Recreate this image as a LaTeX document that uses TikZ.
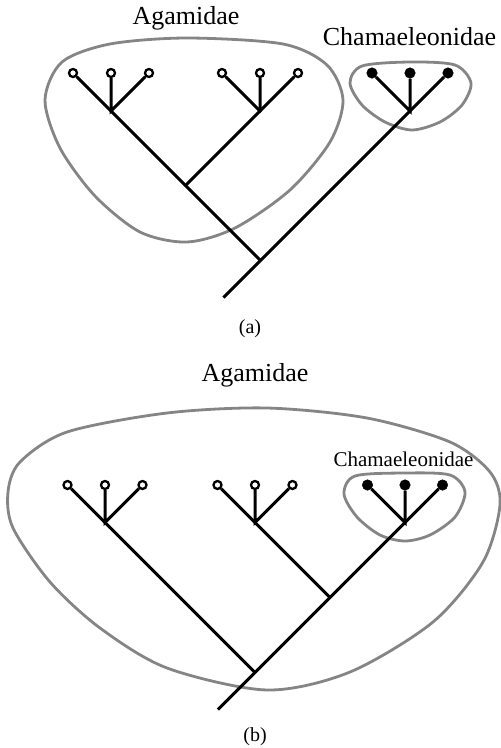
\documentclass[tikz,border=0pt]{standalone}
\usepackage{fontspec}
\setmainfont{Liberation Serif}
\definecolor{cladegray}{HTML}{858585}
\tikzset{
  branch/.style={line width=3pt},
  openleaf/.style={circle, draw, line width=2.3pt, fill=white, minimum size=8pt, inner sep=0pt},
  fullleaf/.style={circle, draw, fill, line width=0.5pt, minimum size=10.5pt, inner sep=0pt},
  clade/.style={cladegray, line width=2.8pt},
  taxon/.style={font=\fontsize{26}{30}\selectfont, anchor=base, inner sep=0pt},
  panel/.style={font=\fontsize{20}{24}\selectfont, anchor=base, inner sep=0pt},
}
\begin{document}
\begin{tikzpicture}[x=1pt, y=-1pt]
  \useasboundingbox (0,0) rectangle (501,748);

  % ---------------- (a) ----------------
  % Clade outlines
  \draw[clade] plot[smooth cycle] coordinates {(187,38) (283,44) (327,65) (343,100) (330,142) (290,190) (235,228) (187,242) (140,232) (95,196) (60,148) (45,100) (62,62) (110,44)};
  \draw[clade] plot[smooth cycle] coordinates {(410,62) (455,65) (471,83) (462,105) (440,122) (412,130) (385,122) (362,105) (350,83) (362,66)};

  % Inner nodes
  \coordinate (aJ1) at (111,111);
  \coordinate (aJ2) at (260,111);
  \coordinate (aJC) at (410,111);
  \coordinate (aJ12) at (185.5,185.5);
  \coordinate (aRoot) at (260.5,260.5);
  \coordinate (aStem) at (223.5,297.5);

  % Leaves
  \node[openleaf] (aA1) at (73,73) {};
  \node[openleaf] (aA2) at (111,73) {};
  \node[openleaf] (aA3) at (149,73) {};
  \node[openleaf] (aA4) at (222,73) {};
  \node[openleaf] (aA5) at (260,73) {};
  \node[openleaf] (aA6) at (298,73) {};
  \node[fullleaf] (aC1) at (372,73) {};
  \node[fullleaf] (aC2) at (410,73) {};
  \node[fullleaf] (aC3) at (448,73) {};

  % Branches
  \draw[branch] (aA1) -- (aJ1) -- (aJ12) -- (aRoot);
  \draw[branch] (aA2) -- (aJ1) -- (aA3);
  \draw[branch] (aA4) -- (aJ2) -- (aA6);
  \draw[branch] (aA5) -- (aJ2) -- (aJ12);
  \draw[branch] (aC3) -- (aJC) -- (aRoot) -- (aStem);
  \draw[branch] (aC1) -- (aJC) -- (aC2);

  % Labels
  \node[taxon] (aAgam) at (186,24) {Agamidae};
  \node[taxon] (aCham) at (409.5,45) {Chamaeleonidae};
  \node[panel] (aCap) at (250,333) {(a)};

  % ---------------- (b) ----------------
  % Clade outlines
  \draw[clade] plot[smooth cycle] coordinates {(8,492) (20,462) (67,432) (167,413) (267,408) (367,418) (450,442) (490,472) (500,505) (483,562) (433,622) (350,672) (267,690) (167,668) (100,628) (50,582) (13,528)};
  \draw[clade] plot[smooth cycle] coordinates {(405,473) (450,475) (465,492) (455,517) (430,535) (405,541) (380,535) (357,517) (344,494) (355,476)};

  % Inner nodes
  \coordinate (bJ1) at (105,522.5);
  \coordinate (bJ2) at (255,522.5);
  \coordinate (bJC) at (405,522.5);
  \coordinate (bJ23) at (330,597.5);
  \coordinate (bRoot) at (255,672.5);
  \coordinate (bStem) at (218,709.5);

  % Leaves
  \node[openleaf] (bA1) at (67.5,485) {};
  \node[openleaf] (bA2) at (105,485) {};
  \node[openleaf] (bA3) at (142.5,485) {};
  \node[openleaf] (bA4) at (217.5,485) {};
  \node[openleaf] (bA5) at (255,485) {};
  \node[openleaf] (bA6) at (292.5,485) {};
  \node[fullleaf] (bC1) at (367.5,485) {};
  \node[fullleaf] (bC2) at (405,485) {};
  \node[fullleaf] (bC3) at (442.5,485) {};

  % Branches
  \draw[branch] (bA1) -- (bJ1) -- (bRoot);
  \draw[branch] (bA2) -- (bJ1) -- (bA3);
  \draw[branch] (bA4) -- (bJ2) -- (bJ23);
  \draw[branch] (bA5) -- (bJ2) -- (bA6);
  \draw[branch] (bC3) -- (bJC) -- (bJ23) -- (bRoot) -- (bStem);
  \draw[branch] (bC1) -- (bJC) -- (bC2);

  % Labels
  \node[taxon] (bAgam) at (255,381) {Agamidae};
  \node[taxon, font=\fontsize{21}{25}\selectfont] (bCham) at (403.5,466) {Chamaeleonidae};
  \node[panel] (bCap) at (255,741) {(b)};
\end{tikzpicture}
\end{document}
